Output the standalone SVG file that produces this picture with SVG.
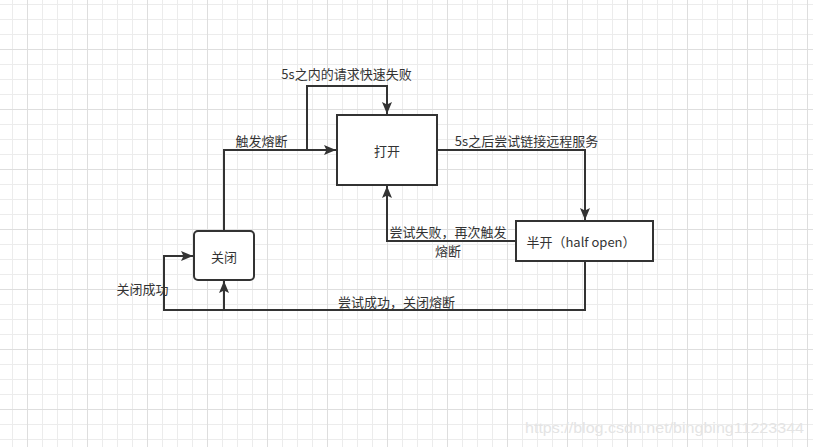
<svg xmlns="http://www.w3.org/2000/svg" width="813" height="447" viewBox="0 0 813 447">
<style>
.node{fill:#fff;stroke:#333;stroke-width:2}
.edge{fill:none;stroke:#333;stroke-width:2}
text{font-family:"Noto Sans CJK SC","Liberation Sans",sans-serif;font-size:13px;fill:#333;text-anchor:middle;dominant-baseline:central}
</style>
<defs>
<pattern id="grid" x="27" y="49" width="60" height="60" patternUnits="userSpaceOnUse">
<path d="M15.5,0V60M30.5,0V60M45.5,0V60M0,15.5H60M0,30.5H60M0,45.5H60" stroke="#ececec" stroke-width="1" fill="none"/>
<path d="M0.5,0V60M0,0.5H60" stroke="#dedede" stroke-width="1" fill="none"/>
</pattern>
<marker id="arr" markerUnits="userSpaceOnUse" markerWidth="13" markerHeight="11" refX="12" refY="5" orient="auto" viewBox="0 0 13 11">
<path d="M0,0L12,5L0,10L2.5,5z" fill="#333"/>
</marker>
</defs>
<rect width="813" height="447" fill="#fff"/>
<rect width="813" height="447" fill="url(#grid)"/>
<g id="connectors">
<path class="edge" d="M224,231V150H336" marker-end="url(#arr)"/>
<path class="edge" d="M307,150V86H387V114" marker-end="url(#arr)"/>
<path class="edge" d="M437,150H585V220" marker-end="url(#arr)"/>
<path class="edge" d="M516,241H387V186" marker-end="url(#arr)"/>
<path class="edge" d="M585,261V310H164V256H193" marker-end="url(#arr)"/>
<path class="edge" d="M585,310H224V281" marker-end="url(#arr)"/>
<text x="346.5" y="73.5">5s之内的请求快速失败</text>
<text x="261.5" y="140.5">触发熔断</text>
<text x="526.5" y="140.5">5s之后尝试链接远程服务</text>
<text x="448" y="231.5">尝试失败，再次触发</text>
<text x="448" y="250.5">熔断</text>
<text x="142.5" y="288.5">关闭成功</text>
<text x="396.5" y="301.5">尝试成功，关闭熔断</text>
</g>
<g id="open">
<rect class="node" x="337" y="115" width="100" height="70"/>
<text x="387" y="150.5">打开</text>
</g>
<g id="halfopen">
<rect class="node" x="516" y="221" width="137" height="40"/>
<text x="581" y="241.5">半开（half open）</text>
</g>
<g id="closed">
<rect class="node" x="194" y="231" width="60" height="49" rx="4"/>
<text x="224" y="256.5">关闭</text>
</g>
<text x="664.5" y="428" style="font-family:'Liberation Sans',sans-serif;font-size:14.5px;fill:#e4e4e4" textLength="279" lengthAdjust="spacingAndGlyphs">https://blog.csdn.net/bingbing11223344</text>
</svg>
